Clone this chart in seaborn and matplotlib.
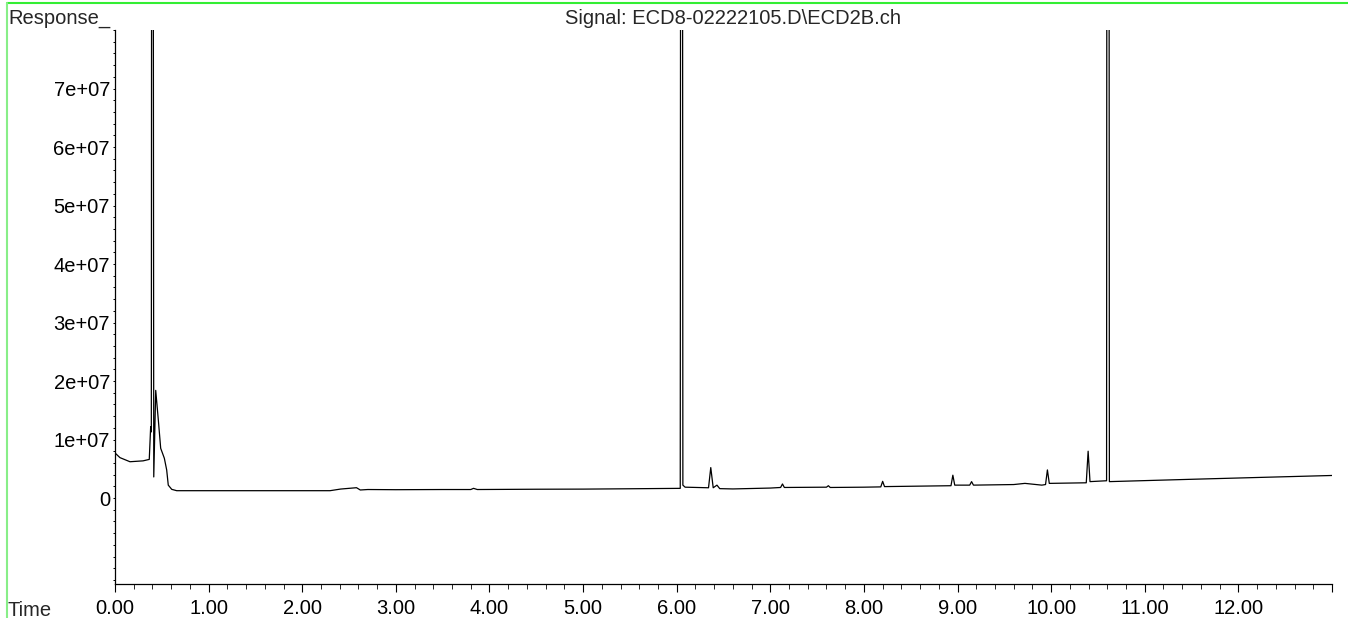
#!/usr/bin/env python3

# ========================================================================
#
# Imports
#
# ========================================================================
import numpy as np
import pandas as pd
import matplotlib as mpl
mpl.use('Agg')
import matplotlib.pyplot as plt
from matplotlib.lines import Line2D
from matplotlib.ticker import MultipleLocator
import seaborn as sns


# ========================================================================
#
# Data
#
# ========================================================================
title = 'Signal: ECD8-02222105.D\\ECD2B.ch'

time_min = [0.000, 0.053, 0.160, 0.300, 0.366, 0.381, 0.388, 0.398, 0.414,
            0.435, 0.463, 0.488, 0.527, 0.552, 0.569, 0.606, 0.659, 1.015,
            1.800, 2.297, 2.410, 2.580, 2.620, 2.700, 3.000, 3.500, 3.800,
            3.830, 3.870, 4.500, 5.000, 5.500, 6.038, 6.052, 6.066, 6.090,
            6.340, 6.364, 6.390, 6.430, 6.460, 6.600, 7.000, 7.110, 7.130,
            7.150, 7.600, 7.620, 7.640, 8.000, 8.180, 8.200, 8.220, 8.930,
            8.950, 8.970, 9.130, 9.150, 9.170, 9.600, 9.720, 9.900, 9.940,
            9.960, 9.980, 10.375, 10.395, 10.415, 10.592, 10.606, 10.622,
            11.500, 12.300, 13.000]

response = [7.7e6, 6.9e6, 6.2e6, 6.35e6, 6.6e6, 1.22e7, 1.13e7, 3.0e8, 3.6e6,
            1.84e7, 1.33e7, 8.5e6, 6.8e6, 4.8e6, 2.2e6, 1.48e6, 1.25e6, 1.25e6,
            1.25e6, 1.25e6, 1.53e6, 1.76e6, 1.37e6, 1.45e6, 1.42e6, 1.45e6, 1.45e6,
            1.65e6, 1.45e6, 1.5e6, 1.52e6, 1.58e6, 1.65e6, 4.0e8, 2.2e6, 1.85e6,
            1.75e6, 5.2e6, 1.75e6, 2.2e6, 1.6e6, 1.55e6, 1.7e6, 1.8e6, 2.4e6,
            1.8e6, 1.85e6, 2.1e6, 1.8e6, 1.85e6, 1.9e6, 2.85e6, 1.95e6, 2.1e6,
            3.9e6, 2.2e6, 2.2e6, 2.8e6, 2.2e6, 2.3e6, 2.5e6, 2.2e6, 2.3e6,
            4.8e6, 2.5e6, 2.6e6, 8.0e6, 2.8e6, 2.95e6, 5.0e8, 2.8e6,
            3.2e6, 3.55e6, 3.85e6]

x_ticks = list(range(0, 14))
x_labels = ['%.2f' % v for v in range(0, 13)] + ['']
y_ticks = [0, 1e7, 2e7, 3e7, 4e7, 5e7, 6e7, 7e7]
y_labels = ['0', '1e+07', '2e+07', '3e+07', '4e+07', '5e+07', '6e+07', '7e+07']


# ========================================================================
#
# Main
#
# ========================================================================
if __name__ == '__main__':

    sns.set_style('ticks')
    plt.rcParams['font.family'] = ['Liberation Sans', 'DejaVu Sans']
    fsize = 14.5

    W, H = 1348, 618
    fig = plt.figure(figsize=(W / 100, H / 100), dpi=100)
    ax = fig.add_axes([115 / W, 1 - 584 / H, (1332 - 115) / W, (584 - 30) / H])

    df = pd.DataFrame({'time': time_min, 'response': response})
    sns.lineplot(data=df, x='time', y='response', ax=ax, color='black',
                 lw=0.9, estimator=None, sort=False)

    ax.set_xlim(0, 13.0)
    ax.set_ylim(-1.47e7, 8.0e7)
    ax.set_xticks(x_ticks)
    ax.set_xticklabels(x_labels)
    ax.set_yticks(y_ticks)
    ax.set_yticklabels(y_labels)
    ax.xaxis.set_minor_locator(MultipleLocator(0.2))
    ax.yaxis.set_minor_locator(MultipleLocator(2e6))
    ax.set_xlabel('')
    ax.set_ylabel('')

    for s in ['top', 'right']:
        ax.spines[s].set_visible(False)
    for s in ['left', 'bottom']:
        ax.spines[s].set_color('black')
        ax.spines[s].set_linewidth(0.9)

    ax.tick_params(axis='x', which='major', length=5.8, width=0.8,
                   pad=5, labelsize=fsize, colors='black')
    ax.tick_params(axis='x', which='minor', length=3.4, width=0.7)
    ax.tick_params(axis='y', which='both', length=1.8, width=0.7,
                   pad=1.8, labelsize=fsize, colors='black')

    # ====================================================================
    # Header / footer texts
    fig.text(8 / W, 1 - 24 / H, 'Response_', fontsize=fsize,
             ha='left', va='baseline')
    fig.text(733 / W, 1 - 24 / H, title, fontsize=fsize,
             ha='center', va='baseline')
    fig.text(8 / W, 1 - 616 / H, 'Time', fontsize=fsize,
             ha='left', va='baseline')

    # green frame lines
    fig.add_artist(Line2D([7 / W, 1], [1 - 3 / H, 1 - 3 / H],
                          transform=fig.transFigure, color='#33ee33', lw=1.5))
    fig.add_artist(Line2D([7 / W, 7 / W], [0, 1 - 3 / H],
                          transform=fig.transFigure, color='#88ee88', lw=1.5))

    fig.savefig('out.png', dpi=100)
